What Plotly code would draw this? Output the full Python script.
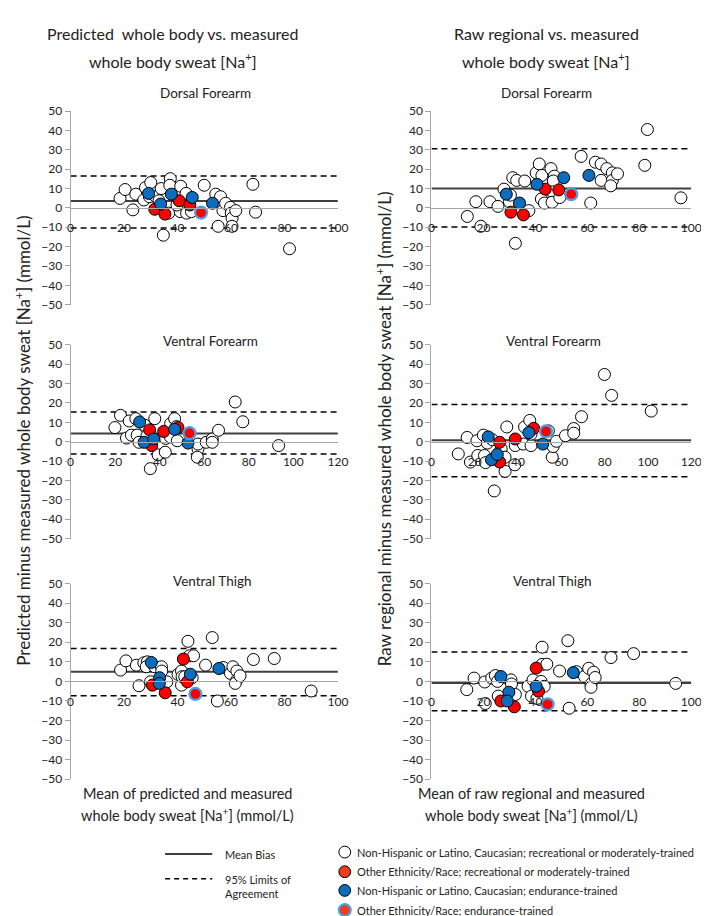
import plotly.graph_objects as go

W, H = 709, 916
FONT = "Lato"

# ---------------- DATA ----------------
# Panel 1: Predicted whole body vs measured - Dorsal Forearm
P1_WHITE_X = [18.5, 20.4, 23.3, 24.4, 27.4, 28.0, 30.0, 29.5, 31.9, 33.1, 33.9, 34.7, 37.3, 37.1, 36.7,
              41.2, 41.0, 43.2, 43.2, 43.4, 45.2, 39.8, 50.0, 54.3, 56.1, 57.0, 58.0, 59.8, 60.1, 60.4,
              61.8, 55.2, 60.4, 68.2, 69.2, 81.9]
P1_WHITE_Y = [4.9, 9.5, -1.0, 7.1, 4.1, 10.5, 13.1, 5.8, 5.8, 3.7, 10.0, -14.1, 15.1, 11.7, -2.7,
              11.2, -1.9, 7.5, 0.7, -2.7, -1.9, 1.5, 11.7, 7.1, 5.8, -1.4, 2.4, 0.3, -2.7, -5.3,
              -1.4, -9.5, -9.5, 12.2, -2.2, -21.1]
P1_RED_X = [31.5, 35.3, 40.6, 44.6]
P1_RED_Y = [-0.7, -3.2, 3.7, 1.5]
P1_BLUE_X = [29.2, 33.7, 37.7, 45.5, 53.1]
P1_BLUE_Y = [7.5, 2.0, 7.1, 5.4, 2.4]
P1_RING_X = [48.8]
P1_RING_Y = [-2.4]

# Panel 2: Raw regional vs measured - Dorsal Forearm
P2_WHITE_X = [13.8, 17.1, 19.0, 22.5, 25.6, 27.9, 30.0, 30.4, 31.3, 32.8, 35.9, 37.5, 32.3, 40.3, 41.5,
              42.5, 42.3, 43.5, 46.0, 47.3, 46.9, 46.6, 46.4, 49.4, 57.6, 61.3, 63.1, 65.3, 65.3, 67.5,
              69.6, 69.6, 69.0, 71.6, 82.1, 83.1, 96.0]
P2_WHITE_Y = [-4.4, 3.2, -9.5, 3.2, 0.8, 9.7, 3.2, 6.6, 15.6, 14.2, 13.9, -1.4, -18.3, 18.1, 22.7,
              16.8, 4.6, 2.5, 20.3, 16.4, 13.9, 8.3, 2.9, 5.4, 26.6, 2.5, 23.6, 22.7, 14.2, 20.3,
              18.1, 14.2, 11.4, 17.6, 22.0, 40.5, 5.2]
P2_RED_X = [30.6, 35.4, 43.8, 49.0]
P2_RED_Y = [-2.2, -3.6, 9.7, 9.3]
P2_BLUE_X = [28.8, 33.9, 40.6, 50.9, 60.6]
P2_BLUE_Y = [7.1, 2.5, 12.2, 15.6, 16.8]
P2_RING_X = [53.8]
P2_RING_Y = [7.1]

# Panel 3: Predicted whole body vs measured - Ventral Forearm
P3_WHITE_X = [19.9, 22.4, 25.1, 26.3, 27.3, 29.3, 29.9, 30.7, 33.3, 34.3, 37.8, 35.8, 39.3, 42.5, 42.7,
              44.9, 46.7, 44.8, 47.9, 47.5, 57.2, 57.2, 60.9, 63.6, 63.6, 66.4, 73.9, 77.3, 93.4, 56.9]
P3_WHITE_Y = [7.3, 13.6, 1.9, 10.7, 3.4, 11.9, 3.4, -0.3, 8.5, 3.1, 11.9, -13.9, -6.8, -5.4, 1.7,
              9.3, 11.9, 2.5, 0.5, 7.8, -3.7, -1.2, -0.3, 1.4, -0.3, 5.9, 20.5, 10.3, -2.0, -8.0]
P3_RED_X = [35.5, 36.4, 41.8, 48.2]
P3_RED_Y = [6.1, -2.0, 5.3, 7.3]
P3_BLUE_X = [31.0, 33.0, 37.3, 46.7, 52.7]
P3_BLUE_Y = [10.2, -0.3, 1.4, 6.4, -0.7]
P3_RING_X = [53.4]
P3_RING_Y = [4.4]

# Panel 4: Raw regional vs measured - Ventral Forearm
P4_WHITE_X = [12.4, 16.5, 18.0, 21.0, 21.4, 24.0, 24.5, 25.0, 25.8, 28.2, 32.2, 34.0, 34.0, 34.8, 38.5,
              38.7, 42.4, 43.0, 45.4, 46.0, 46.0, 54.0, 55.8, 56.2, 57.7, 61.9, 65.7, 65.7, 69.3, 79.9,
              83.2, 101.5, 29.0]
P4_WHITE_Y = [-6.3, 2.2, -10.5, 0.5, -7.1, 3.4, -7.1, -10.8, -0.7, 1.0, -3.7, -8.0, -15.3, 7.6, -11.9,
              -2.0, -1.2, 7.6, 11.0, -2.0, 3.9, 5.6, -8.0, -2.5, 0.2, 3.1, 6.8, 4.4, 12.9, 34.7,
              23.9, 15.8, -25.4]
P4_RED_X = [31.5, 31.5, 38.7, 47.2]
P4_RED_Y = [-0.3, -10.5, 1.4, 6.9]
P4_BLUE_X = [26.2, 27.7, 30.4, 45.0, 51.4]
P4_BLUE_Y = [2.5, -9.3, -6.6, 4.7, -1.2]
P4_RING_X = [52.9]
P4_RING_Y = [5.3]

# Panel 5: Predicted whole body vs measured - Ventral Thigh
P5_WHITE_X = [18.7, 20.7, 24.6, 25.6, 27.4, 28.7, 28.3, 29.9, 31.5, 34.0, 34.1, 36.0, 40.2, 41.5, 41.5,
              41.7, 42.7, 43.9, 44.5, 46.0, 45.5, 50.5, 53.0, 54.9, 57.1, 59.8, 60.7, 62.2, 62.2, 61.6,
              63.4, 68.4, 76.2, 90.0]
P5_WHITE_Y = [5.8, 10.5, 8.3, -2.2, 9.5, 10.0, 7.5, -0.2, 7.5, 7.5, 5.3, -0.2, 3.6, 5.3, -1.9,
              2.4, 2.4, 20.5, 13.1, 13.1, 1.9, 8.3, 22.4, -10.0, 7.1, 4.1, 7.5, 5.3, 0.7, -1.0,
              2.9, 11.2, 11.7, -4.9]
P5_RED_X = [30.6, 35.4, 42.2, 43.7]
P5_RED_Y = [-1.9, -5.8, 11.4, -0.2]
P5_BLUE_X = [30.2, 33.3, 33.2, 44.8, 55.5]
P5_BLUE_Y = [9.7, 1.9, -1.0, 3.7, 6.6]
P5_RING_X = [46.7]
P5_RING_Y = [-6.4]

# Panel 6: Raw regional vs measured - Ventral Thigh
P6_WHITE_X = [13.6, 16.4, 20.5, 20.7, 23.2, 24.6, 25.4, 25.7, 30.6, 30.8, 32.3, 37.2, 38.5, 39.1, 40.6,
              42.6, 42.6, 42.2, 43.4, 44.4, 49.3, 52.5, 53.0, 55.8, 58.9, 60.5, 61.4, 61.4, 62.4, 63.0,
              69.1, 77.8, 94.0]
P6_WHITE_Y = [-4.2, 1.7, -0.3, -11.3, 1.7, 3.0, 0.0, -7.5, 0.8, -1.3, -6.7, -2.5, -7.5, 0.8, -8.7,
              17.5, 8.7, 0.0, -2.5, 8.8, 5.3, 20.8, -13.7, 5.0, 2.5, 6.7, -1.3, -3.0, 4.7, 2.0,
              12.2, 14.2, -1.0]
P6_RED_X = [26.7, 31.9, 40.3, 41.2]
P6_RED_Y = [-10.0, -13.0, 6.8, -5.0]
P6_BLUE_X = [26.7, 29.8, 29.2, 40.3, 54.6]
P6_BLUE_Y = [2.5, -5.5, -10.0, -2.5, 4.5]
P6_RING_X = [44.7]
P6_RING_Y = [-11.7]

# Bland-Altman statistics per panel (1..6)
MEAN_BIAS = [3.6, 10.0, 4.2, 0.7, 4.9, -0.8]
LOA_UPPER = [16.5, 30.5, 15.4, 19.2, 16.8, 15.0]
LOA_LOWER = [-10.4, -9.8, -6.4, -18.1, -7.3, -15.0]

X_MAX = [100, 100, 120, 120, 100, 100]
X_TICKS_100 = [0, 20, 40, 60, 80, 100]
X_TICKS_120 = [0, 20, 40, 60, 80, 100, 120]
Y_TICKS = [-50, -40, -30, -20, -10, 0, 10, 20, 30, 40, 50]

PANEL_TITLES = ["Dorsal Forearm", "Dorsal Forearm", "Ventral Forearm", "Ventral Forearm",
                "Ventral Thigh", "Ventral Thigh"]
COLUMN_TITLES = [["Predicted  whole body vs. measured", "whole body sweat [Na<sup>+</sup>]"],
                 ["Raw regional vs. measured", "whole body sweat [Na<sup>+</sup>]"]]
Y_TITLES = ["Predicted minus measured whole body sweat [Na<sup>+</sup>] (mmol/L)",
            "Raw regional minus measured whole body sweat [Na<sup>+</sup>] (mmol/L)"]
X_TITLES = [["Mean of predicted and measured", "whole body sweat [Na<sup>+</sup>] (mmol/L)"],
            ["Mean of raw regional and measured", "whole body sweat [Na<sup>+</sup>] (mmol/L)"]]
GROUP_NAMES = ["Non-Hispanic or Latino, Caucasian; recreational or moderately-trained",
               "Other Ethnicity/Race; recreational or moderately-trained",
               "Non-Hispanic or Latino, Caucasian; endurance-trained",
               "Other Ethnicity/Race; endurance-trained"]
LINE_NAMES = ["Mean Bias", "95% Limits of<br>Agreement"]

PANELS = [
    (P1_WHITE_X, P1_WHITE_Y, P1_RED_X, P1_RED_Y, P1_BLUE_X, P1_BLUE_Y, P1_RING_X, P1_RING_Y),
    (P2_WHITE_X, P2_WHITE_Y, P2_RED_X, P2_RED_Y, P2_BLUE_X, P2_BLUE_Y, P2_RING_X, P2_RING_Y),
    (P3_WHITE_X, P3_WHITE_Y, P3_RED_X, P3_RED_Y, P3_BLUE_X, P3_BLUE_Y, P3_RING_X, P3_RING_Y),
    (P4_WHITE_X, P4_WHITE_Y, P4_RED_X, P4_RED_Y, P4_BLUE_X, P4_BLUE_Y, P4_RING_X, P4_RING_Y),
    (P5_WHITE_X, P5_WHITE_Y, P5_RED_X, P5_RED_Y, P5_BLUE_X, P5_BLUE_Y, P5_RING_X, P5_RING_Y),
    (P6_WHITE_X, P6_WHITE_Y, P6_RED_X, P6_RED_Y, P6_BLUE_X, P6_BLUE_Y, P6_RING_X, P6_RING_Y),
]

# ---------------- STYLE / LAYOUT ----------------
RED = "#FF0000"
BLUE = "#0A6DBE"
RING = "#45A2E6"
AXIS_GRAY = "#A6A6A6"
TEXT = "#222222"

# pixel geometry of panels
COL_X = [(60.7, 333.0), (428.3, 693.0)]
ROW_Y = [(96.7, 293.5), (334.3, 531.3), (577.0, 776.0)]


def px(x):
    return x / W


def py(y):
    return 1 - y / H


fig = go.Figure()
layout = dict(
    width=W, height=H, margin=dict(l=0, r=0, t=0, b=0),
    paper_bgcolor="white", plot_bgcolor="white", showlegend=False,
    font=dict(family=FONT, color=TEXT),
)

annotations = []
shapes = []

for i in range(6):
    row, col = divmod(i, 2)
    n = i + 1
    xs = "" if n == 1 else str(n)
    x0, x1 = COL_X[col]
    ytop, ybot = ROW_Y[row]
    ydom = [py(ybot), py(ytop)]
    layout[f"xaxis{xs}"] = dict(
        domain=[px(x0), px(x1)], range=[0, X_MAX[i]],
        tickvals=X_TICKS_120 if X_MAX[i] == 120 else X_TICKS_100,
        anchor="free", position=(ydom[0] + ydom[1]) / 2,
        showline=True, linecolor=AXIS_GRAY, linewidth=1,
        showgrid=False, zeroline=False, ticks="",
        ticklabelstandoff=9, tickfont=dict(size=12, color=TEXT, family=FONT),
    )
    layout[f"yaxis{xs}"] = dict(
        domain=ydom, range=[-50, 50], tickvals=Y_TICKS, anchor=f"x{xs}",
        showline=True, linecolor=AXIS_GRAY, linewidth=1,
        showgrid=False, zeroline=False, ticks="outside", ticklen=5, tickcolor=AXIS_GRAY,
        tickfont=dict(size=12, color=TEXT, family=FONT),
    )
    xa, ya = f"x{xs}", f"y{xs}"
    # Bland-Altman lines
    for val, dash, color, width in [(LOA_UPPER[i], "6px,4px", "#000000", 1.5),
                                    (LOA_LOWER[i], "6px,4px", "#000000", 1.5),
                                    (MEAN_BIAS[i], "solid", "#404040", 2)]:
        fig.add_trace(go.Scatter(x=[0, X_MAX[i]], y=[val, val], mode="lines", xaxis=xa, yaxis=ya,
                                 line=dict(color=color, width=width, dash=dash), hoverinfo="skip"))
    wx, wy, rx, ry, bx, by, gx, gy = PANELS[i]
    for (xx, yy, fill, lc, lw) in [(wx, wy, "white", "#000000", 1),
                                   (rx, ry, RED, "#000000", 1),
                                   (bx, by, BLUE, "#000000", 1),
                                   (gx, gy, RED, RING, 2.2)]:
        fig.add_trace(go.Scatter(x=xx, y=yy, mode="markers", xaxis=xa, yaxis=ya, cliponaxis=False,
                                 marker=dict(size=12, color=fill, line=dict(color=lc, width=lw))))

# panel titles
TITLE_POS = [(198, 78), (545, 78), (203, 330), (553, 330), (205, 574), (551, 574)]
for (tx, ty), t in zip(TITLE_POS, PANEL_TITLES):
    annotations.append(dict(x=px(tx), y=py(ty), xref="paper", yref="paper", text=t, showarrow=False,
                            xanchor="center", yanchor="middle", font=dict(size=13.5, family=FONT, color=TEXT)))

# column titles
for cx, lines in zip([165, 545], COLUMN_TITLES):
    for ly, t in zip([18, 45], lines):
        annotations.append(dict(x=px(cx), y=py(ly), xref="paper", yref="paper", text=t, showarrow=False,
                                xanchor="center", yanchor="middle", font=dict(size=16, family=FONT, color=TEXT)))

# y axis titles
for (cx, cy), t in zip([(12, 432), (379, 420)], Y_TITLES):
    annotations.append(dict(x=px(cx), y=py(cy), xref="paper", yref="paper", text=t, showarrow=False,
                            textangle=-90, xanchor="center", yanchor="middle",
                            font=dict(size=17, family=FONT, color=TEXT)))

# x axis titles
for cx, lines in zip([180, 530], X_TITLES):
    for ly, t in zip([790, 812], lines):
        annotations.append(dict(x=px(cx), y=py(ly), xref="paper", yref="paper", text=t, showarrow=False,
                                xanchor="center", yanchor="middle", font=dict(size=14.5, family=FONT, color=TEXT)))

# legend: line keys
shapes.append(dict(type="line", xref="paper", yref="paper", x0=px(157), x1=px(205), y0=py(852), y1=py(852),
                   line=dict(color="#000000", width=1.5)))
shapes.append(dict(type="line", xref="paper", yref="paper", x0=px(157), x1=px(205), y0=py(877), y1=py(877),
                   line=dict(color="#000000", width=1.5, dash="5px,4px")))
annotations.append(dict(x=px(216), y=py(852), xref="paper", yref="paper", text=LINE_NAMES[0], showarrow=False,
                        xanchor="left", yanchor="middle", font=dict(size=11, family=FONT, color=TEXT)))
annotations.append(dict(x=px(216), y=py(885), xref="paper", yref="paper", text=LINE_NAMES[1], showarrow=False,
                        xanchor="left", yanchor="middle", align="left",
                        font=dict(size=11, family=FONT, color=TEXT)))

# legend: marker keys
LEG_Y = [850, 870, 889, 909]
LEG_STYLE = [("white", "#000000", 1), ("#F03C1C", "#000000", 1), (BLUE, "#000000", 1), ("#F03C1C", RING, 2.2)]
for ly, (fill, lc, lw), name in zip(LEG_Y, LEG_STYLE, GROUP_NAMES):
    r = 6
    shapes.append(dict(type="circle", xref="paper", yref="paper", x0=px(340 - r), x1=px(340 + r),
                       y0=py(ly + r), y1=py(ly - r), fillcolor=fill, line=dict(color=lc, width=lw)))
    annotations.append(dict(x=px(350), y=py(ly), xref="paper", yref="paper", text=name, showarrow=False,
                            xanchor="left", yanchor="middle", font=dict(size=11, family=FONT, color=TEXT)))

layout["annotations"] = annotations
layout["shapes"] = shapes
fig.update_layout(**layout)
fig.write_html("out.html")
